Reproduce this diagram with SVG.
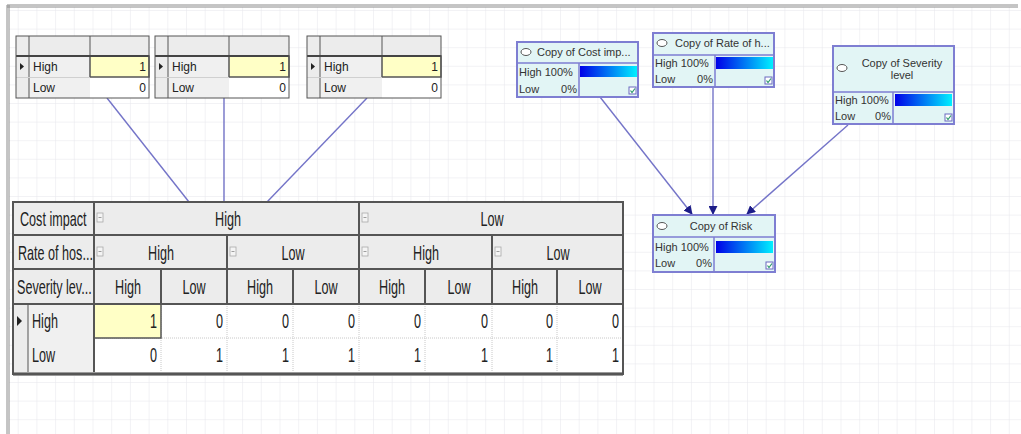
<svg xmlns="http://www.w3.org/2000/svg" width="1021" height="434" viewBox="0 0 1021 434">
<defs>
<pattern id="grid" x="-1" y="10" width="18.7" height="18.6" patternUnits="userSpaceOnUse">
<path d="M0 0H18.7M0 0V18.6" fill="none" stroke="#e6e6ec" stroke-width="1"/>
</pattern>
<linearGradient id="bar" x1="0" y1="0" x2="1" y2="0">
<stop offset="0" stop-color="#0000e8"/>
<stop offset="1" stop-color="#00f0ff"/>
</linearGradient>
<marker id="arr" viewBox="0 0 10 10" refX="9" refY="5" markerWidth="9" markerHeight="9" markerUnits="userSpaceOnUse" orient="auto">
<path d="M0 0L10 5L0 10Z" fill="#1c1c88"/>
</marker>
<g id="chk">
<rect x="0" y="0" width="7" height="7" fill="#ffffff" stroke="#6a6ac0" stroke-width="1"/>
<path d="M1.5 3.5L3 5.5L6 1.5" fill="none" stroke="#2a9a6a" stroke-width="1.2"/>
</g>
<g id="minus">
<rect x="0" y="0" width="6" height="9" fill="#f4f4f4" stroke="#aaaaaa" stroke-width="0.8"/>
<path d="M1.5 4.5H4.5" stroke="#888888" stroke-width="0.8"/>
</g>
</defs>
<style>
.t{font-family:"Liberation Sans","Arial",sans-serif;fill:#222222}
.st{font-size:12px}
.mt{font-size:20px}
.nt{font-family:"Liberation Sans","Arial",sans-serif;font-size:11px;fill:#333333}
.hdr{fill:#ececec}
.lab{fill:#f0f0f0}
.dk{stroke:#555555;fill:none}
.lt{stroke:#c8c8c8;fill:none;stroke-dasharray:1 1}
.node{fill:#e2f5f5;stroke:#7e7ed2;stroke-width:2}
.nl{stroke:#7e7ed2;stroke-width:1.5;fill:none}
.con{stroke:#7474c8;stroke-width:1.4;fill:none}
.yel{fill:#ffffc6;stroke:#555555;stroke-width:1.5}
.ico{fill:#ffffff;stroke:#555555;stroke-width:1}
</style>

<rect x="0" y="0" width="1021" height="434" fill="#ffffff"/>
<rect x="9" y="7" width="1012" height="427" fill="url(#grid)"/>
<path d="M7 5H1018M7 7H1018" stroke="#8a8a8a" stroke-width="1"/>
<path d="M7 5V434M9 5V434" stroke="#8a8a8a" stroke-width="1"/>

<g id="connectors">
<line class="con" x1="107" y1="98" x2="189" y2="202"/>
<line class="con" x1="224" y1="98" x2="224" y2="202"/>
<line class="con" x1="367" y1="98" x2="267" y2="202"/>
<line class="con" x1="600" y1="97" x2="692" y2="214" marker-end="url(#arr)"/>
<line class="con" x1="713" y1="87" x2="713" y2="214" marker-end="url(#arr)"/>
<line class="con" x1="848" y1="125" x2="747" y2="214" marker-end="url(#arr)"/>
</g>

<g id="table-cost">
<rect x="16" y="36" width="133" height="62" fill="#ffffff"/>
<rect class="hdr" x="16" y="36" width="133" height="20"/>
<rect class="hdr" x="16" y="56" width="13" height="42"/>
<rect class="lab" x="29" y="56" width="61" height="42"/>
<rect class="yel" x="90" y="56" width="59" height="21"/>
<path class="dk" d="M29 36V98M90 36V56"/>
<path d="M16 56H149" stroke="#444444" stroke-width="2"/>
<path d="M16 77.5H90" stroke="#d0d0d0"/>
<rect class="dk" x="16" y="36" width="133" height="62"/>
<path d="M20 63L24 66.5L20 70Z" fill="#222222"/>
<text class="t st" x="33" y="71">High</text>
<text class="t st" x="146" y="71" text-anchor="end">1</text>
<text class="t st" x="33" y="92">Low</text>
<text class="t st" x="146" y="92" text-anchor="end">0</text>
</g>

<g id="table-rate">
<rect x="155" y="36" width="134" height="62" fill="#ffffff"/>
<rect class="hdr" x="155" y="36" width="134" height="20"/>
<rect class="hdr" x="155" y="56" width="13" height="42"/>
<rect class="lab" x="168" y="56" width="61" height="42"/>
<rect class="yel" x="229" y="56" width="60" height="21"/>
<path class="dk" d="M168 36V98M229 36V56"/>
<path d="M155 56H289" stroke="#444444" stroke-width="2"/>
<path d="M155 77.5H229" stroke="#d0d0d0"/>
<rect class="dk" x="155" y="36" width="134" height="62"/>
<path d="M159 63L163 66.5L159 70Z" fill="#222222"/>
<text class="t st" x="172" y="71">High</text>
<text class="t st" x="286" y="71" text-anchor="end">1</text>
<text class="t st" x="172" y="92">Low</text>
<text class="t st" x="286" y="92" text-anchor="end">0</text>
</g>

<g id="table-severity">
<rect x="307" y="36" width="134" height="62" fill="#ffffff"/>
<rect class="hdr" x="307" y="36" width="134" height="20"/>
<rect class="hdr" x="307" y="56" width="13" height="42"/>
<rect class="lab" x="320" y="56" width="62" height="42"/>
<rect class="yel" x="382" y="56" width="59" height="21"/>
<path class="dk" d="M320 36V98M382 36V56"/>
<path d="M307 56H441" stroke="#444444" stroke-width="2"/>
<path d="M307 77.5H382" stroke="#d0d0d0"/>
<rect class="dk" x="307" y="36" width="134" height="62"/>
<path d="M311 63L315 66.5L311 70Z" fill="#222222"/>
<text class="t st" x="324" y="71">High</text>
<text class="t st" x="438" y="71" text-anchor="end">1</text>
<text class="t st" x="324" y="92">Low</text>
<text class="t st" x="438" y="92" text-anchor="end">0</text>
</g>

<g id="table-risk">
<rect x="13" y="202" width="610" height="170" fill="#ffffff"/>
<rect class="hdr" x="13" y="202" width="610" height="102"/>
<rect class="hdr" x="13" y="304" width="15" height="68"/>
<rect class="lab" x="28" y="304" width="66" height="68"/>
<rect x="13" y="372" width="610" height="4" fill="#9a9a9a"/>
<path class="lt" d="M161 304V372M227 304V372M293 304V372M359 304V372M425 304V372M492 304V372M557 304V372M94 338H623"/>
<rect class="yel" x="94" y="304" width="67" height="34"/>
<path class="dk" stroke-width="2" d="M13 235H623M13 269H623M13 304H623"/>
<path class="dk" stroke-width="2" d="M94 202V372M359 202V304M227 235V304M492 235V304M161 269V304M293 269V304M425 269V304M557 269V304"/>
<path class="dk" d="M28 304V372"/>
<rect class="dk" stroke-width="2" x="13" y="202" width="610" height="172"/>
<use href="#minus" x="97" y="213"/>
<use href="#minus" x="362" y="213"/>
<use href="#minus" x="97" y="247"/>
<use href="#minus" x="230" y="247"/>
<use href="#minus" x="362" y="247"/>
<use href="#minus" x="495" y="247"/>
<path d="M17 316L22 321L17 326Z" fill="#222222"/>
<g transform="scale(0.63 1)">
<text class="t mt" x="31.75" y="226">Cost impact</text>
<text class="t mt" x="28.57" y="260">Rate of hos...</text>
<text class="t mt" x="26.98" y="294">Severity lev...</text>
<g text-anchor="middle">
<text class="t mt" x="361.9" y="226">High</text>
<text class="t mt" x="780.95" y="226">Low</text>
<text class="t mt" x="255.56" y="260">High</text>
<text class="t mt" x="465.08" y="260">Low</text>
<text class="t mt" x="676.19" y="260">High</text>
<text class="t mt" x="885.71" y="260">Low</text>
<text class="t mt" x="203.17" y="294">High</text>
<text class="t mt" x="307.94" y="294">Low</text>
<text class="t mt" x="412.7" y="294">High</text>
<text class="t mt" x="517.46" y="294">Low</text>
<text class="t mt" x="622.22" y="294">High</text>
<text class="t mt" x="728.57" y="294">Low</text>
<text class="t mt" x="833.33" y="294">High</text>
<text class="t mt" x="936.51" y="294">Low</text>
</g>
<text class="t mt" x="50.79" y="328">High</text>
<text class="t mt" x="50.79" y="362">Low</text>
<g text-anchor="end">
<text class="t mt" x="249.21" y="328">1</text>
<text class="t mt" x="353.97" y="328">0</text>
<text class="t mt" x="458.73" y="328">0</text>
<text class="t mt" x="563.49" y="328">0</text>
<text class="t mt" x="668.25" y="328">0</text>
<text class="t mt" x="774.6" y="328">0</text>
<text class="t mt" x="877.78" y="328">0</text>
<text class="t mt" x="982.54" y="328">0</text>
<text class="t mt" x="249.21" y="362">0</text>
<text class="t mt" x="353.97" y="362">1</text>
<text class="t mt" x="458.73" y="362">1</text>
<text class="t mt" x="563.49" y="362">1</text>
<text class="t mt" x="668.25" y="362">1</text>
<text class="t mt" x="774.6" y="362">1</text>
<text class="t mt" x="877.78" y="362">1</text>
<text class="t mt" x="982.54" y="362">1</text>
</g>
</g>
</g>

<g id="node-cost">
<rect class="node" x="517" y="42" width="121" height="55"/>
<path class="nl" d="M517 63H638M579 63V97"/>
<ellipse class="ico" cx="526" cy="52" rx="5" ry="3.5"/>
<text class="nt" x="537" y="56">Copy of Cost imp...</text>
<rect x="580" y="66" width="57" height="11" fill="url(#bar)"/>
<text class="nt" x="519" y="76">High 100%</text>
<text class="nt" x="519" y="93">Low</text>
<text class="nt" x="577" y="93" text-anchor="end">0%</text>
<use href="#chk" x="629" y="87"/>
</g>

<g id="node-rate">
<rect class="node" x="653" y="33" width="121" height="54"/>
<path class="nl" d="M653 55H774M715 55V87"/>
<ellipse class="ico" cx="662" cy="43" rx="5" ry="3.5"/>
<text class="nt" x="675" y="47">Copy of Rate of h...</text>
<rect x="716" y="57" width="57" height="12" fill="url(#bar)"/>
<text class="nt" x="655" y="67">High 100%</text>
<text class="nt" x="655" y="83">Low</text>
<text class="nt" x="713" y="83" text-anchor="end">0%</text>
<use href="#chk" x="765" y="77"/>
</g>

<g id="node-severity">
<rect class="node" x="833" y="46" width="121" height="78"/>
<path class="nl" d="M833 92H954M893 92V124"/>
<ellipse class="ico" cx="842" cy="68" rx="5" ry="3.5"/>
<text class="nt" x="902" y="67" text-anchor="middle">Copy of Severity</text>
<text class="nt" x="902" y="79" text-anchor="middle">level</text>
<rect x="895" y="94" width="57" height="12" fill="url(#bar)"/>
<text class="nt" x="835" y="104">High 100%</text>
<text class="nt" x="835" y="120">Low</text>
<text class="nt" x="891" y="120" text-anchor="end">0%</text>
<use href="#chk" x="945" y="114"/>
</g>

<g id="node-risk">
<rect class="node" x="653" y="215" width="122" height="57"/>
<path class="nl" d="M653 237H775M714 237V272"/>
<ellipse class="ico" cx="662" cy="226" rx="5" ry="3.5"/>
<text class="nt" x="721" y="230" text-anchor="middle">Copy of Risk</text>
<rect x="716" y="241" width="57" height="12" fill="url(#bar)"/>
<text class="nt" x="655" y="251">High 100%</text>
<text class="nt" x="655" y="267">Low</text>
<text class="nt" x="712" y="267" text-anchor="end">0%</text>
<use href="#chk" x="766" y="262"/>
</g>
</svg>
